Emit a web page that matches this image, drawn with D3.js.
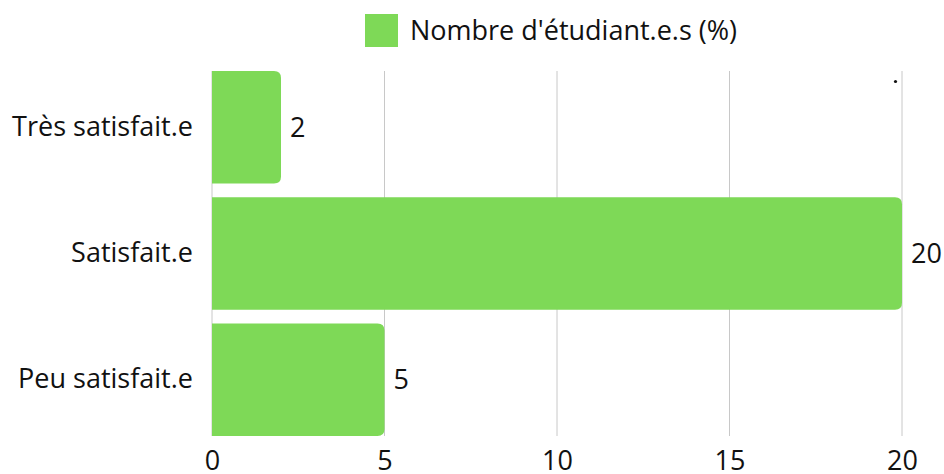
<!DOCTYPE html>
<html>
<head>
<meta charset="utf-8">
<script src="https://cdn.jsdelivr.net/npm/d3@7"></script>
<style>
  body { margin: 0; background: #fff; }
  text { font-family: "Open Sans", "Noto Sans", sans-serif; fill: #111; }
</style>
</head>
<body>
<svg id="chart"></svg>
<script>
const categories = ["Très satisfait.e", "Satisfait.e", "Peu satisfait.e"];
const values = [2, 20, 5];
const xTicks = [0, 5, 10, 15, 20];
const seriesName = "Nombre d'étudiant.e.s (%)";

const width = 944, height = 474;
const margin = { top: 71, right: 42, bottom: 38, left: 212 };
const green = "#7ed957";
const fontSize = 27;

const svg = d3.select("#chart")
    .attr("width", width)
    .attr("height", height);

const x = d3.scaleLinear()
    .domain([0, 20])
    .range([margin.left, width - margin.right]);

const y = d3.scaleBand()
    .domain(categories)
    .range([margin.top, height - margin.bottom])
    .paddingInner(0.108)
    .paddingOuter(0);

// grid
svg.append("g")
    .selectAll("line")
    .data(xTicks)
    .join("line")
    .attr("x1", d => x(d)).attr("x2", d => x(d))
    .attr("y1", margin.top).attr("y2", height - margin.bottom)
    .attr("stroke", "#c8c8c8")
    .attr("stroke-width", 1);

// x axis labels (baseline close to bottom edge)
svg.append("g")
    .attr("transform", `translate(0,${height - margin.bottom})`)
    .call(d3.axisBottom(x).tickValues(xTicks).tickSize(0))
    .call(g => g.select(".domain").remove())
    .call(g => g.selectAll("text")
        .attr("y", 34).attr("dy", null)
        .attr("font-size", fontSize).attr("fill", "#111")
        .attr("font-family", "'Open Sans', sans-serif"));

// y axis labels
svg.append("g")
    .attr("transform", `translate(${margin.left},0)`)
    .call(d3.axisLeft(y).tickSize(0).tickPadding(19))
    .call(g => g.select(".domain").remove())
    .call(g => g.selectAll("text").attr("font-size", fontSize).attr("fill", "#111")
        .attr("font-family", "'Open Sans', sans-serif"));

// bars with rounded right end
const r = 7;
function barPath(d, i) {
    const x0 = x(0), x1 = x(d), y0 = y(categories[i]), h = y.bandwidth();
    const rr = Math.min(r, (x1 - x0) / 2);
    return `M${x0},${y0}H${x1 - rr}Q${x1},${y0} ${x1},${y0 + rr}V${y0 + h - rr}Q${x1},${y0 + h} ${x1 - rr},${y0 + h}H${x0}Z`;
}

svg.append("g")
    .selectAll("path")
    .data(values)
    .join("path")
    .attr("d", barPath)
    .attr("fill", green);

// value labels
svg.append("g")
    .selectAll("text")
    .data(values)
    .join("text")
    .attr("x", d => x(d) + 9)
    .attr("y", (d, i) => y(categories[i]) + y.bandwidth() / 2)
    .attr("dy", "0.35em")
    .attr("font-size", fontSize)
    .text(d => d);

// legend
svg.append("rect")
    .attr("x", 365).attr("y", 14)
    .attr("width", 33).attr("height", 33)
    .attr("fill", green);
svg.append("text")
    .attr("x", 410).attr("y", 40)
    .attr("font-size", fontSize)
    .text(seriesName);

// stray dot near top right
svg.append("circle")
    .attr("cx", 895.5).attr("cy", 81.5).attr("r", 1.6)
    .attr("fill", "#111");
</script>
</body>
</html>
